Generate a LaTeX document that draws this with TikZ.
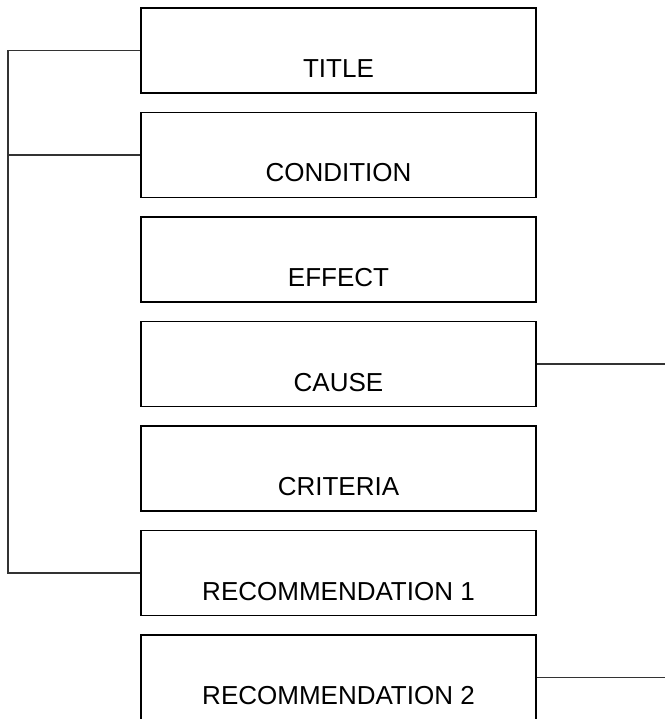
\documentclass[tikz,border=0pt]{standalone}
\usepackage{fontspec}
\setmainfont{Liberation Sans}
\begin{document}
\begin{tikzpicture}[x=1pt,y=-1pt,
  box/.style={draw=black,line width=1.9pt,minimum width=395pt,minimum height=85pt,inner sep=0pt},
  lbl/.style={anchor=base,font=\fontsize{26}{30}\selectfont,inner sep=0pt},
  conn/.style={draw=black!80,line width=1.4pt}]
\useasboundingbox (0,0) rectangle (665,719);
\fill[white] (0,0) rectangle (665,719);
\node[box] (b1) at (338.5,50.5) {};
\node[box] (b2) at (338.5,155) {};
\node[box] (b3) at (338.5,259.5) {};
\node[box] (b4) at (338.5,364) {};
\node[box] (b5) at (338.5,468.5) {};
\node[box] (b6) at (338.5,573) {};
\node[box] (b7) at (338.5,677.5) {};
\node[lbl] (l1) at ([yshift=-27pt]b1.center) {TITLE};
\node[lbl] (l2) at ([yshift=-27pt]b2.center) {CONDITION};
\node[lbl] (l3) at ([yshift=-27pt]b3.center) {EFFECT};
\node[lbl] (l4) at ([yshift=-27pt]b4.center) {CAUSE};
\node[lbl] (l5) at ([yshift=-27pt]b5.center) {CRITERIA};
\node[lbl] (l6) at ([yshift=-27pt]b6.center) {RECOMMENDATION 1};
\node[lbl] (l7) at ([yshift=-27pt]b7.center) {RECOMMENDATION 2};
\coordinate (lx) at (8,0);
\coordinate (rx) at (665,0);
\draw[conn] (b1.west) -- (b1.west -| lx) -- (b6.west -| lx) -- (b6.west);
\draw[conn] (b2.west) -- (b2.west -| lx);
\draw[conn] (b4.east) -- (b4.east -| rx);
\draw[conn] (b7.east) -- (b7.east -| rx);
\end{tikzpicture}
\end{document}
